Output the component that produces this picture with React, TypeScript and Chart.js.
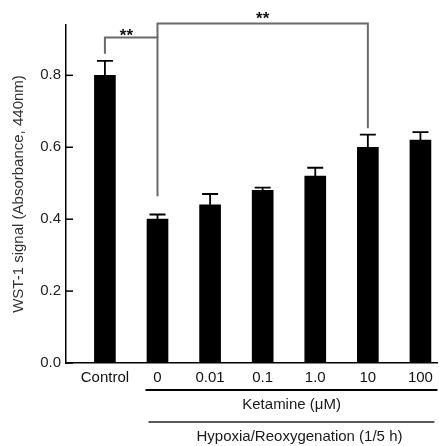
import React, { useEffect, useRef } from "react";
import { Chart, registerables } from "chart.js";

Chart.register(...registerables);

const categories = ["Control", "0", "0.01", "0.1", "1.0", "10", "100"];
const means = [0.8, 0.4, 0.44, 0.48, 0.52, 0.6, 0.62];
const errors = [0.04, 0.013, 0.03, 0.008, 0.023, 0.035, 0.022];
const yTicks = [0, 0.2, 0.4, 0.6, 0.8];
const yTitle = "WST-1 signal (Absorbance, 440nm)";
const subLabel = "Ketamine (\u03bcM)";
const groupLabel = "Hypoxia/Reoxygenation (1/5 h)";
// significance brackets: from/to category index, leg ends, bar height and label spot in data units
const brackets = [
  { from: 0, to: 1, fromY: 0.86, y: 0.905, toY: 0.464, labelAt: 0.41, labelY: 0.92, label: "**" },
  { from: 1, to: 5, fromY: 0.905, y: 0.944, toY: 0.653, labelAt: 3.0, labelY: 0.966, label: "**" },
];

const FONT = "Arial, 'Liberation Sans', sans-serif";

const extrasPlugin = {
  id: "extras",
  afterDatasetsDraw(chart: any) {
    const ctx = chart.ctx;
    const x = chart.scales.x;
    const y = chart.scales.y;
    const area = chart.chartArea;
    const meta = chart.getDatasetMeta(0);
    ctx.save();
    // inward y ticks
    ctx.strokeStyle = "#000";
    ctx.lineWidth = 1.5;
    yTicks.forEach((v) => {
      const py = y.getPixelForValue(v);
      ctx.beginPath();
      ctx.moveTo(area.left, py);
      ctx.lineTo(area.left + 7, py);
      ctx.stroke();
    });
    // error bars
    ctx.lineWidth = 1.8;
    meta.data.forEach((el: any, i: number) => {
      const top = y.getPixelForValue(means[i]);
      const e = y.getPixelForValue(means[i] + errors[i]);
      ctx.beginPath();
      ctx.moveTo(el.x, top);
      ctx.lineTo(el.x, e);
      ctx.moveTo(el.x - 8, e);
      ctx.lineTo(el.x + 8, e);
      ctx.stroke();
    });
    // brackets
    ctx.strokeStyle = "#6a6a6a";
    ctx.lineWidth = 2;
    ctx.fillStyle = "#111";
    ctx.font = "bold 17px " + FONT;
    ctx.textAlign = "center";
    ctx.textBaseline = "middle";
    brackets.forEach((b) => {
      const x1 = x.getPixelForValue(b.from);
      const x2 = x.getPixelForValue(b.to);
      const yb = y.getPixelForValue(b.y);
      ctx.beginPath();
      ctx.moveTo(x1, y.getPixelForValue(b.fromY));
      ctx.lineTo(x1, yb);
      ctx.lineTo(x2, yb);
      ctx.lineTo(x2, y.getPixelForValue(b.toY));
      ctx.stroke();
      ctx.fillText(b.label, x.getPixelForValue(b.labelAt), y.getPixelForValue(b.labelY) + 4);
    });
    // group lines and labels below the axis
    const bottom = area.bottom;
    ctx.strokeStyle = "#000";
    ctx.beginPath();
    ctx.moveTo(x.getPixelForValue(1) - 12, bottom + 27);
    ctx.lineTo(area.right, bottom + 27);
    ctx.stroke();
    ctx.strokeStyle = "#5a5a5a";
    ctx.beginPath();
    ctx.moveTo(x.getPixelForValue(1) - 9, bottom + 59);
    ctx.lineTo(area.right - 3, bottom + 59);
    ctx.stroke();
    ctx.font = "15px " + FONT;
    ctx.fillStyle = "#1a1a1a";
    ctx.textBaseline = "middle";
    ctx.fillText(subLabel, x.getPixelForValue(3.55), bottom + 42);
    ctx.fillText(groupLabel, x.getPixelForValue(3.7), bottom + 74);
    ctx.restore();
  },
};

export default function App() {
  const ref = useRef<HTMLCanvasElement | null>(null);
  useEffect(() => {
    document.body.style.margin = "0";
    const canvas = ref.current!;
    const chart = new Chart(canvas, {
      type: "bar",
      data: {
        datasets: [
          {
            data: means.map((v, i) => ({ x: i, y: v })),
            backgroundColor: "#000",
            borderWidth: 0,
            barThickness: 21,
          },
        ],
      },
      options: {
        animation: false,
        responsive: false,
        layout: { padding: { left: 0, right: 1, top: 25, bottom: 0 } },
        plugins: { legend: { display: false }, tooltip: { enabled: false } },
        scales: {
          x: {
            type: "linear",
            offset: false,
            min: -0.74,
            max: 6.323,
            grid: { display: false, drawTicks: false, offset: false },
            border: { display: true, color: "#000", width: 1.5 },
            afterBuildTicks: (s: any) => {
              s.ticks = categories.map((_, i) => ({ value: i }));
            },
            afterFit: (s: any) => {
              s.height = 83;
            },
            ticks: {
              autoSkip: false,
              maxRotation: 0,
              padding: 6,
              color: "#111",
              font: { family: FONT, size: 15 },
              callback: (v: any) => categories[v as number] ?? "",
            },
          },
          y: {
            min: 0,
            max: 0.94,
            grid: { display: false, drawTicks: false },
            border: { display: true, color: "#000", width: 1.5 },
            afterBuildTicks: (s: any) => {
              s.ticks = yTicks.map((v) => ({ value: v }));
            },
            afterFit: (s: any) => {
              s.width = 66;
            },
            ticks: {
              padding: 5,
              color: "#222",
              font: { family: FONT, size: 15 },
              callback: (v: any) => Number(v).toFixed(1),
            },
            title: {
              display: true,
              text: yTitle,
              color: "#333",
              font: { family: FONT, size: 15 },
              padding: { top: 10, bottom: 0 },
            },
          },
        },
      },
      plugins: [extrasPlugin],
    });
    return () => chart.destroy();
  }, []);
  return (
    <canvas
      ref={ref}
      width={439}
      height={446}
      style={{ display: "block", width: 439, height: 446 }}
    />
  );
}
